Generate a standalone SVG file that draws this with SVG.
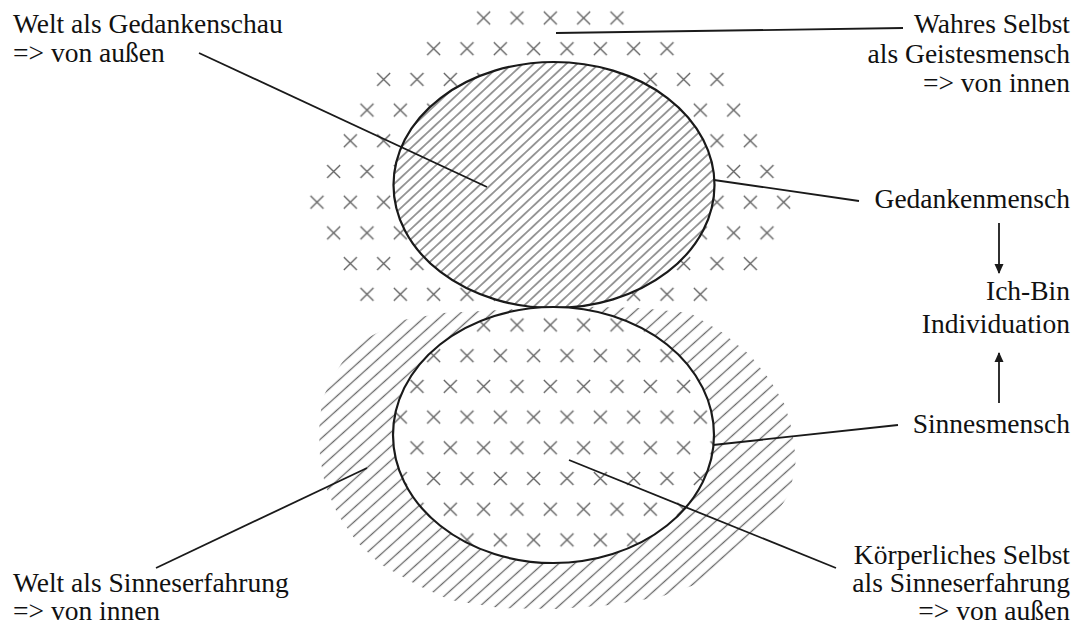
<svg xmlns="http://www.w3.org/2000/svg" width="1074" height="630" viewBox="0 0 1074 630">
<style>
.ln{stroke:#1a1a1a;stroke-width:1.8;fill:none}
.el{stroke:#1a1a1a;stroke-width:2.2}
</style>
<defs>
<pattern id="xp" patternUnits="userSpaceOnUse" x="308.667" y="2.65" width="33.333" height="61.4">
<path d="M1.83,8.85L14.83,21.85M14.83,8.85L1.83,21.85M18.5,39.55L31.5,52.55M31.5,39.55L18.5,52.55" stroke="#606060" stroke-width="1.3" fill="none"/>
</pattern>
<pattern id="h1" patternUnits="userSpaceOnUse" width="30" height="7.4" patternTransform="rotate(-43)">
<line x1="0" y1="3.7" x2="30" y2="3.7" stroke="#5a5a5a" stroke-width="1.2"/>
</pattern>
<pattern id="h2" patternUnits="userSpaceOnUse" width="30" height="10.5" patternTransform="rotate(-42)">
<line x1="0" y1="5.25" x2="30" y2="5.25" stroke="#6a6a6a" stroke-width="1.3"/>
</pattern>
<marker id="ah" viewBox="0 0 10 10" refX="9" refY="5" markerWidth="10" markerHeight="10" markerUnits="userSpaceOnUse" orient="auto">
<path d="M0,0.5L10,5L0,9.5Z" fill="#1a1a1a"/>
</marker>
</defs>

<g id="crosses-upper" fill="url(#xp)">
<rect x="470" y="3" width="161" height="30"/>
<rect x="420" y="33.7" width="261" height="30"/>
<rect x="370" y="64.4" width="361" height="30"/>
<rect x="353" y="95.1" width="394" height="30"/>
<rect x="337" y="125.8" width="427" height="30"/>
<rect x="320" y="156.5" width="461" height="30"/>
<rect x="303" y="187.2" width="494" height="30"/>
<rect x="320" y="217.9" width="461" height="30"/>
<rect x="337" y="248.6" width="427" height="30"/>
<rect x="353" y="279.3" width="361" height="30"/>
</g>

<g id="hatch-lower">
<path fill="url(#h2)" d="M500,310L560,306L640,308L690,313L723,333L750,355L770,380L785,405L792,430L796,460L790,493L775,515L763,527L735,555L703,582L660,597L610,605L557,609L500,608L450,600L417,585L380,564L357,542L338,515L325,485L320,457L319,430L322,400L332,378L345,358L367,338L403,320L443,313Z"/>
</g>

<g id="upper-ellipse">
<ellipse cx="554" cy="185" rx="160.5" ry="123" fill="#fff"/>
<ellipse cx="554" cy="185" rx="160.5" ry="123" fill="url(#h1)" class="el"/>
</g>

<g id="lower-ellipse">
<ellipse cx="553.5" cy="435" rx="160.5" ry="128" fill="#fff"/>
<ellipse cx="553.5" cy="435" rx="160.5" ry="128" fill="url(#xp)" class="el"/>
</g>

<g id="connectors">
<line class="ln" x1="199" y1="53" x2="487" y2="187"/>
<line class="ln" x1="556" y1="33" x2="903" y2="28"/>
<line class="ln" x1="714" y1="180" x2="859" y2="201"/>
<line class="ln" x1="713" y1="445" x2="898" y2="425"/>
<line class="ln" x1="156" y1="568" x2="367" y2="468"/>
<line class="ln" x1="569" y1="460" x2="836" y2="568"/>
<line class="ln" x1="999" y1="223" x2="999" y2="273" marker-end="url(#ah)"/>
<line class="ln" x1="999" y1="403" x2="999" y2="353" marker-end="url(#ah)"/>
</g>

<g id="label-welt-gedankenschau">
<text font-family="Liberation Serif" font-size="27.5" fill="#111" x="13" y="33">Welt als Gedankenschau</text>
<text font-family="Liberation Serif" font-size="27.5" fill="#111" x="13" y="62">=&gt; von außen</text>
</g>
<g id="label-wahres-selbst">
<text font-family="Liberation Serif" font-size="27.5" fill="#111" text-anchor="end" x="1070" y="33">Wahres Selbst</text>
<text font-family="Liberation Serif" font-size="27.5" fill="#111" text-anchor="end" x="1070" y="63">als Geistesmensch</text>
<text font-family="Liberation Serif" font-size="27.5" fill="#111" text-anchor="end" x="1070" y="92">=&gt; von innen</text>
</g>
<g id="label-gedankenmensch">
<text font-family="Liberation Serif" font-size="27.5" fill="#111" text-anchor="end" x="1070" y="208">Gedankenmensch</text>
</g>
<g id="label-ich-bin">
<text font-family="Liberation Serif" font-size="27.5" fill="#111" text-anchor="end" x="1070" y="300">Ich-Bin</text>
<text font-family="Liberation Serif" font-size="27.5" fill="#111" text-anchor="end" x="1070" y="333">Individuation</text>
</g>
<g id="label-sinnesmensch">
<text font-family="Liberation Serif" font-size="27.5" fill="#111" text-anchor="end" x="1070" y="433">Sinnesmensch</text>
</g>
<g id="label-welt-sinneserfahrung">
<text font-family="Liberation Serif" font-size="27.5" fill="#111" x="13" y="592">Welt als Sinneserfahrung</text>
<text font-family="Liberation Serif" font-size="27.5" fill="#111" x="13" y="620">=&gt; von innen</text>
</g>
<g id="label-koerperliches-selbst">
<text font-family="Liberation Serif" font-size="27.5" fill="#111" text-anchor="end" x="1070" y="564">Körperliches Selbst</text>
<text font-family="Liberation Serif" font-size="27.5" fill="#111" text-anchor="end" x="1070" y="592">als Sinneserfahrung</text>
<text font-family="Liberation Serif" font-size="27.5" fill="#111" text-anchor="end" x="1070" y="620">=&gt; von außen</text>
</g>
</svg>
